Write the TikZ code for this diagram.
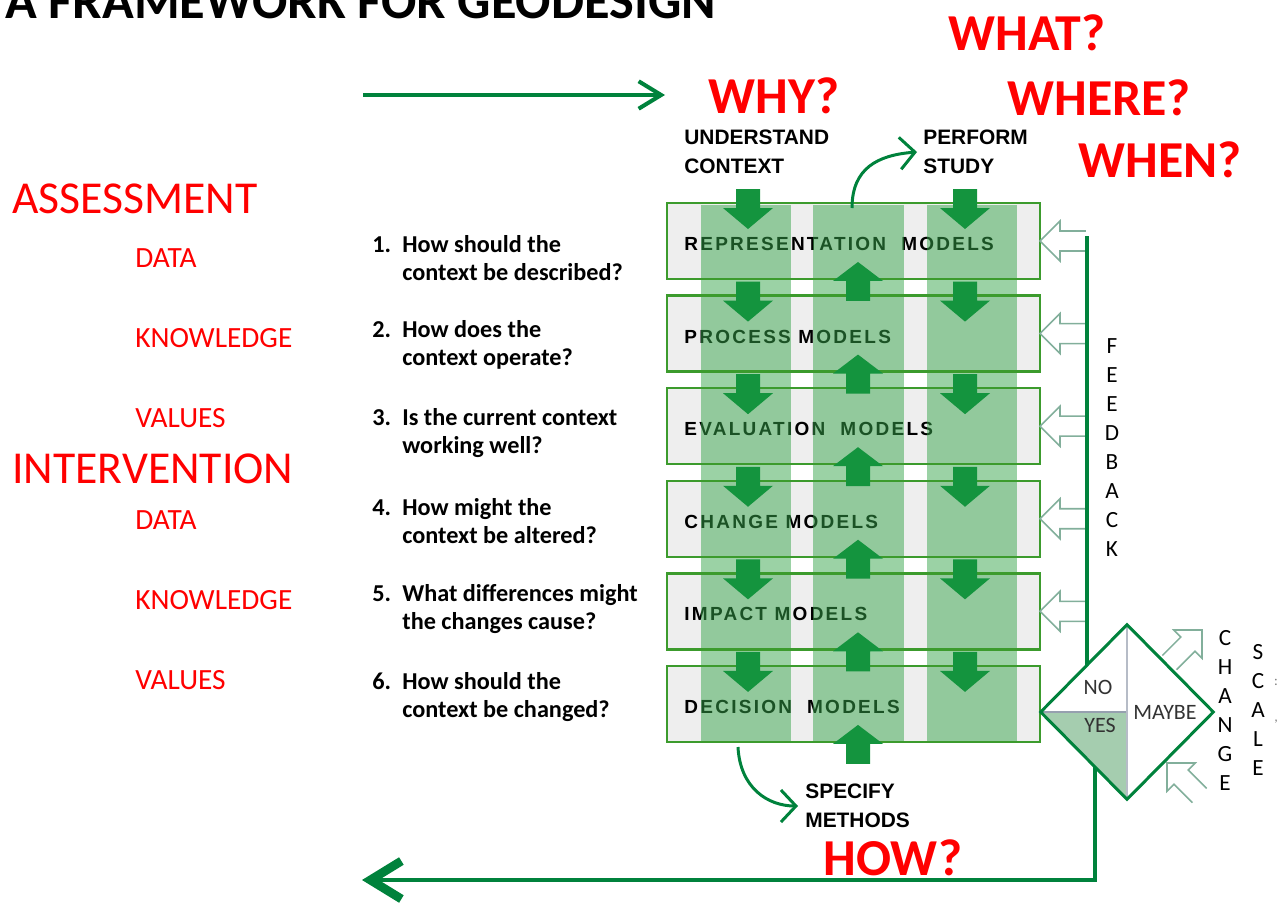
\documentclass[tikz,border=0pt]{standalone}
\usepackage{fontspec}
\setmainfont{Carlito}
\newfontfamily\modelfont[LetterSpace=12]{Liberation Sans}
\newfontfamily\stepfont{Liberation Sans}
\usepackage{tikz}
\usetikzlibrary{shapes.geometric, arrows.meta, positioning, calc}
\definecolor{linegreen}{RGB}{0,130,60}
\definecolor{boxgreen}{RGB}{60,155,45}
\definecolor{arrowgreen}{RGB}{20,148,62}
\definecolor{bandgreen}{RGB}{55,165,75}
\definecolor{boxgray}{RGB}{238,238,238}
\definecolor{hollowgreen}{RGB}{130,175,155}
\definecolor{yesgreen}{RGB}{165,205,175}
\definecolor{splitgray}{RGB}{150,160,175}
\definecolor{headred}{RGB}{255,0,0}

\tikzset{
  downarr/.pic={\fill[arrowgreen] (-12,-14) -- (12,-14) -- (12,5) -- (25,5) -- (0,26) -- (-25,5) -- (-12,5) -- cycle;},
  uparr/.pic={\fill[arrowgreen] (-12,22) -- (12,22) -- (12,2) -- (25,2) -- (0,-17) -- (-25,2) -- (-12,2) -- cycle;},
  hollowarr/.pic={\draw[hollowgreen, line width=0.9pt] (-46,-10) -- (-20,-10) -- (-20,-20) -- (0,0) -- (-20,20) -- (-20,10) -- (-46,10);}
}

\begin{document}
\begin{tikzpicture}[x=0.02cm, y=-0.02cm,
    modelbox/.style={draw=boxgreen, line width=1.4pt, fill=boxgray, minimum width=7.46cm, minimum height=1.52cm, inner sep=0pt, outer sep=0pt},
    modelframe/.style={draw=boxgreen, line width=1.4pt},
    modellabel/.style={inner sep=0pt, text=black, font=\modelfont\bfseries\fontsize{10.8}{12}\selectfont, yshift=-0.06cm},
    band/.style={fill=bandgreen, fill opacity=0.5},
    titletext/.style={anchor=base west, inner sep=0pt, font=\bfseries\fontsize{29.8}{34}\selectfont},
    bigq/.style={anchor=base west, inner sep=0pt, text=headred, font=\bfseries\fontsize{29.5}{34}\selectfont},
    redhead/.style={anchor=base west, inner sep=0pt, text=headred, font=\fontsize{26}{30}\selectfont},
    redsub/.style={anchor=base west, inner sep=0pt, text=headred, font=\fontsize{16.7}{20}\selectfont},
    question/.style={anchor=west, inner sep=0pt, align=left, font=\bfseries\fontsize{13.8}{15.9}\selectfont},
    steplabel/.style={anchor=west, inner sep=0pt, align=left, font=\stepfont\bfseries\fontsize{11.9}{16.4}\selectfont},
    vertword/.style={inner sep=0pt, align=center, font=\fontsize{13.2}{16.5}\selectfont},
    choicetext/.style={inner sep=0pt, text=black!80, font=\fontsize{12.5}{14}\selectfont},
    flowline/.style={draw=linegreen, line width=2.3pt},
    curvearrow/.style={draw=linegreen, line width=1.7pt, -{Straight Barb[length=0.3cm, width=0.64cm]}},
  ]
  \useasboundingbox (0,0) rectangle (1282,903);
  \clip (0,0) rectangle (1282,903);

  % headings
  \node[titletext] (title) at (5,18) {A FRAMEWORK FOR GEODESIGN};
  \node[bigq] (why) at (708,113) {WHY?};
  \node[bigq] (what) at (948,50) {WHAT?};
  \node[bigq] (where) at (1007,115) {WHERE?};
  \node[bigq] (when) at (1078,177) {WHEN?};
  \node[bigq] (how) at (823,875) {HOW?};

  \node[redhead] (assess) at (12,213) {ASSESSMENT};
  \node[redsub] (data1) at (135,267) {DATA};
  \node[redsub] (know1) at (135,347) {KNOWLEDGE};
  \node[redsub] (val1) at (135,427) {VALUES};
  \node[redhead] (interv) at (12,483) {INTERVENTION};
  \node[redsub] (data2) at (135,529) {DATA};
  \node[redsub] (know2) at (135,609) {KNOWLEDGE};
  \node[redsub] (val2) at (135,689) {VALUES};

  % questions
  \node[question] (q1) at (372,258) {\makebox[0.6cm][l]{1.}How should the\\\hspace*{0.6cm}context be described?};
  \node[question] (q2) at (372,345) {\makebox[0.6cm][l]{2.}How does the\\\hspace*{0.6cm}context operate?};
  \node[question] (q3) at (372,433) {\makebox[0.6cm][l]{3.}Is the current context\\\hspace*{0.6cm}working well?};
  \node[question] (q4) at (372,521) {\makebox[0.6cm][l]{4.}How might the\\\hspace*{0.6cm}context be altered?};
  \node[question] (q5) at (372,609) {\makebox[0.6cm][l]{5.}What differences might\\\hspace*{0.6cm}the changes cause?};
  \node[question] (q6) at (372,697) {\makebox[0.6cm][l]{6.}How should the\\\hspace*{0.6cm}context be changed?};

  % model stack
  \node[modelbox] (rep) at (853.5,241) {};
  \node[modelbox, below=0.332cm of rep] (proc) {};
  \node[modelbox, below=0.332cm of proc] (eval) {};
  \node[modelbox, below=0.332cm of eval] (chng) {};
  \node[modelbox, below=0.332cm of chng] (impact) {};
  \node[modelbox, below=0.332cm of impact] (dec) {};

  \node[modellabel, right=0.34cm of rep.west] (replabel) {REPRESENTATION\ \ MODELS};
  \node[modellabel, right=0.34cm of proc.west] (proclabel) {PROCESS MODELS};
  \node[modellabel, right=0.34cm of eval.west] (evallabel) {EVALUATION\ \ MODELS};
  \node[modellabel, right=0.34cm of chng.west] (chnglabel) {CHANGE MODELS};
  \node[modellabel, right=0.34cm of impact.west] (impactlabel) {IMPACT MODELS};
  \node[modellabel, right=0.34cm of dec.west] (declabel) {DECISION\ \ MODELS};

  \fill[band] (701,205) rectangle (791,742);
  \fill[band] (813,205) rectangle (904,742);
  \fill[band] (927,205) rectangle (1017,742);

  \draw[modelframe] (rep.north west) rectangle (rep.south east);
  \draw[modelframe] (proc.north west) rectangle (proc.south east);
  \draw[modelframe] (eval.north west) rectangle (eval.south east);
  \draw[modelframe] (chng.north west) rectangle (chng.south east);
  \draw[modelframe] (impact.north west) rectangle (impact.south east);
  \draw[modelframe] (dec.north west) rectangle (dec.south east);

  % block arrows
  \pic at ($(rep.north)+(-105.5,0)$) {downarr};
  \pic at ($(rep.north)+(111.5,0)$) {downarr};
  \pic at ($(rep.south)+(4.5,0)$) {uparr};
  \pic at ($(proc.north)+(-105.5,0)$) {downarr};
  \pic at ($(proc.north)+(111.5,0)$) {downarr};
  \pic at ($(proc.south)+(4.5,0)$) {uparr};
  \pic at ($(eval.north)+(-105.5,0)$) {downarr};
  \pic at ($(eval.north)+(111.5,0)$) {downarr};
  \pic at ($(eval.south)+(4.5,0)$) {uparr};
  \pic at ($(chng.north)+(-105.5,0)$) {downarr};
  \pic at ($(chng.north)+(111.5,0)$) {downarr};
  \pic at ($(chng.south)+(4.5,0)$) {uparr};
  \pic at ($(impact.north)+(-105.5,0)$) {downarr};
  \pic at ($(impact.north)+(111.5,0)$) {downarr};
  \pic at ($(impact.south)+(4.5,0)$) {uparr};
  \pic at ($(dec.north)+(-105.5,0)$) {downarr};
  \pic at ($(dec.north)+(111.5,0)$) {downarr};
  \pic at ($(dec.south)+(4.5,0)$) {uparr};

  % steps
  \node[steplabel] (understand) at (684,152) {UNDERSTAND\\CONTEXT};
  \node[steplabel] (perform) at (923,152) {PERFORM\\STUDY};
  \node[steplabel] (specify) at (805,806) {SPECIFY\\METHODS};

  \coordinate (studyfrom) at (852,208);
  \coordinate (specfrom) at (738,747);
  \draw[curvearrow] (studyfrom) .. controls (852,168) and (878,155) .. ([xshift=-0.12cm]perform.west);
  \draw[curvearrow] (specfrom) .. controls (740,788) and (768,806) .. ([xshift=-0.14cm]specify.west);

  % top arrow
  \coordinate (topstart) at (363,95);
  \coordinate (topend) at (665,95);
  \draw[flowline, -{Straight Barb[length=0.45cm, width=0.55cm]}] (topstart) -- (topend);

  % feedback
  \pic[rotate=180] at (rep.east) {hollowarr};
  \pic[rotate=180] at (proc.east) {hollowarr};
  \pic[rotate=180] at (eval.east) {hollowarr};
  \pic[rotate=180] at (chng.east) {hollowarr};
  \pic[rotate=180] at (impact.east) {hollowarr};

  \node[vertword] (feedback) at (1112,447.5) {F\\E\\E\\D\\B\\A\\C\\K};

  % decision diamond
  \node[diamond, minimum width=3.44cm, minimum height=3.48cm, inner sep=0pt] (choice) at (1127,712) {};
  \fill[yesgreen] (choice.west) -- (choice.center) -- (choice.south) -- cycle;
  \draw[splitgray, line width=0.8pt] (choice.west) -- (choice.center);
  \draw[splitgray!70, line width=0.8pt] (choice.north) -- (choice.south);
  \draw[linegreen, line width=1.7pt] (choice.north) -- (choice.east) -- (choice.south) -- (choice.west) -- cycle;

  \node[choicetext] (no) at (1098,687) {NO};
  \node[choicetext] (yes) at (1100,725) {YES};
  \node[choicetext] (maybe) at (1165,712) {MAYBE};

  \coordinate (fbfoot) at ($(choice.west)!0.54!(choice.north)$);
  \coordinate (fbtop) at (1088,236);
  \draw[flowline] (fbfoot) -- (fbfoot |- fbtop);

  \coordinate (retfoot) at ($(choice.west)!0.63!(choice.south)$);
  \coordinate (retend) at (362,880);
  \draw[flowline, -{Straight Barb[length=0.62cm, width=0.76cm, line width=5pt]}] (retfoot) |- (retend);

  \pic[rotate=45] at (1202,630) {hollowarr};
  \pic[rotate=135] at (1167,763) {hollowarr};

  \node[vertword] (change) at (1225,710) {C\\H\\A\\N\\G\\E};
  \node[vertword] (scale) at (1258,709.5) {S\\C\\A\\L\\E};
  \node[inner sep=0pt, text=gray, font=\fontsize{8}{9}\selectfont] (scalecolon) at (1276,682) {:};
  \node[inner sep=0pt, text=gray, font=\fontsize{8}{9}\selectfont] (scalecomma) at (1276,722) {,};
\end{tikzpicture}
\end{document}
